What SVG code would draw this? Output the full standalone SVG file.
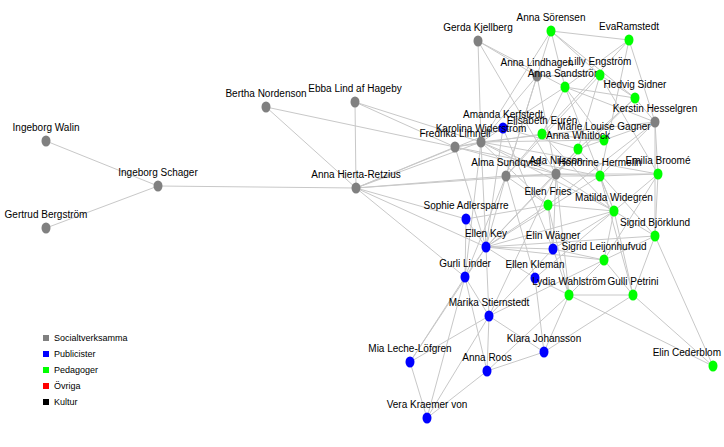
<svg xmlns="http://www.w3.org/2000/svg" width="724" height="447" viewBox="0 0 724 447">
<style>
text{font-family:"Liberation Sans","DejaVu Sans",sans-serif;font-size:10px;fill:#000;text-anchor:middle}
.e line{stroke:#c8c8c8;stroke-width:1}
.g{fill:#808080}.b{fill:#0000ff}.p{fill:#00ff00}
.lg text{text-anchor:start;font-size:9px}
</style>
<rect width="724" height="447" fill="#fff"/>
<g id="connectors" class="e">
<line x1="46" y1="141" x2="158" y2="186"/><line x1="46" y1="228" x2="158" y2="186"/><line x1="158" y1="186" x2="356" y2="188"/>
<line x1="266" y1="107" x2="356" y2="188"/><line x1="266" y1="107" x2="455" y2="147"/><line x1="355" y1="102" x2="356" y2="188"/><line x1="355" y1="102" x2="455" y2="147"/><line x1="355" y1="102" x2="481" y2="142"/>
<line x1="356" y1="188" x2="455" y2="147"/><line x1="356" y1="188" x2="481" y2="142"/><line x1="356" y1="188" x2="466" y2="219"/><line x1="356" y1="188" x2="486" y2="247"/><line x1="356" y1="188" x2="465" y2="277"/><line x1="356" y1="188" x2="506" y2="176"/><line x1="356" y1="188" x2="556" y2="174"/><line x1="356" y1="188" x2="503" y2="128"/>
<line x1="478" y1="41" x2="481" y2="142"/><line x1="478" y1="41" x2="537" y2="76"/><line x1="478" y1="41" x2="556" y2="174"/><line x1="478" y1="41" x2="565" y2="87"/>
<line x1="551" y1="31" x2="629" y2="40"/><line x1="551" y1="31" x2="565" y2="87"/><line x1="551" y1="31" x2="600" y2="75"/><line x1="551" y1="31" x2="481" y2="142"/><line x1="551" y1="31" x2="635" y2="98"/><line x1="551" y1="31" x2="506" y2="176"/>
<line x1="629" y1="40" x2="565" y2="87"/><line x1="629" y1="40" x2="600" y2="176"/><line x1="629" y1="40" x2="542" y2="134"/><line x1="629" y1="40" x2="655" y2="122"/>
<line x1="537" y1="76" x2="481" y2="142"/><line x1="537" y1="76" x2="506" y2="176"/><line x1="537" y1="76" x2="600" y2="75"/><line x1="537" y1="76" x2="556" y2="174"/>
<line x1="565" y1="87" x2="635" y2="98"/><line x1="565" y1="87" x2="542" y2="134"/><line x1="565" y1="87" x2="604" y2="140"/><line x1="565" y1="87" x2="655" y2="122"/><line x1="565" y1="87" x2="481" y2="142"/><line x1="565" y1="87" x2="614" y2="211"/>
<line x1="600" y1="75" x2="635" y2="98"/><line x1="600" y1="75" x2="578" y2="149"/><line x1="600" y1="75" x2="506" y2="176"/><line x1="600" y1="75" x2="658" y2="174"/>
<line x1="635" y1="98" x2="655" y2="122"/><line x1="635" y1="98" x2="578" y2="149"/><line x1="635" y1="98" x2="556" y2="174"/>
<line x1="655" y1="122" x2="604" y2="140"/><line x1="655" y1="122" x2="658" y2="174"/><line x1="655" y1="122" x2="600" y2="176"/><line x1="655" y1="122" x2="481" y2="142"/><line x1="655" y1="122" x2="655" y2="236"/><line x1="655" y1="122" x2="548" y2="205"/>
<line x1="455" y1="147" x2="481" y2="142"/><line x1="455" y1="147" x2="600" y2="176"/><line x1="455" y1="147" x2="486" y2="247"/><line x1="455" y1="147" x2="556" y2="174"/><line x1="455" y1="147" x2="542" y2="134"/>
<line x1="481" y1="142" x2="604" y2="140"/><line x1="481" y1="142" x2="658" y2="174"/><line x1="481" y1="142" x2="556" y2="174"/><line x1="481" y1="142" x2="548" y2="205"/><line x1="481" y1="142" x2="486" y2="247"/><line x1="481" y1="142" x2="465" y2="277"/><line x1="481" y1="142" x2="614" y2="211"/>
<line x1="503" y1="128" x2="578" y2="149"/><line x1="503" y1="128" x2="486" y2="247"/><line x1="503" y1="128" x2="553" y2="249"/>
<line x1="542" y1="134" x2="604" y2="140"/><line x1="542" y1="134" x2="506" y2="176"/><line x1="542" y1="134" x2="614" y2="211"/>
<line x1="578" y1="149" x2="604" y2="140"/><line x1="578" y1="149" x2="556" y2="174"/><line x1="578" y1="149" x2="655" y2="236"/><line x1="578" y1="149" x2="486" y2="247"/>
<line x1="506" y1="176" x2="556" y2="174"/><line x1="506" y1="176" x2="600" y2="176"/><line x1="506" y1="176" x2="486" y2="247"/><line x1="506" y1="176" x2="535" y2="278"/><line x1="506" y1="176" x2="548" y2="205"/><line x1="506" y1="176" x2="465" y2="277"/>
<line x1="556" y1="174" x2="600" y2="176"/><line x1="556" y1="174" x2="658" y2="174"/><line x1="556" y1="174" x2="553" y2="249"/><line x1="556" y1="174" x2="614" y2="211"/><line x1="556" y1="174" x2="486" y2="247"/><line x1="556" y1="174" x2="569" y2="295"/><line x1="556" y1="174" x2="489" y2="316"/>
<line x1="600" y1="176" x2="658" y2="174"/><line x1="600" y1="176" x2="614" y2="211"/><line x1="600" y1="176" x2="633" y2="295"/><line x1="600" y1="176" x2="486" y2="247"/>
<line x1="658" y1="174" x2="614" y2="211"/><line x1="658" y1="174" x2="604" y2="260"/><line x1="658" y1="174" x2="655" y2="236"/>
<line x1="548" y1="205" x2="614" y2="211"/><line x1="548" y1="205" x2="486" y2="247"/><line x1="548" y1="205" x2="569" y2="295"/><line x1="548" y1="205" x2="553" y2="249"/>
<line x1="614" y1="211" x2="655" y2="236"/><line x1="614" y1="211" x2="486" y2="247"/><line x1="614" y1="211" x2="604" y2="260"/><line x1="614" y1="211" x2="633" y2="295"/><line x1="614" y1="211" x2="553" y2="249"/><line x1="614" y1="211" x2="535" y2="278"/>
<line x1="655" y1="236" x2="604" y2="260"/><line x1="655" y1="236" x2="633" y2="295"/><line x1="655" y1="236" x2="713" y2="366"/><line x1="655" y1="236" x2="486" y2="247"/>
<line x1="466" y1="219" x2="486" y2="247"/><line x1="466" y1="219" x2="465" y2="277"/><line x1="466" y1="219" x2="548" y2="205"/>
<line x1="486" y1="247" x2="553" y2="249"/><line x1="486" y1="247" x2="465" y2="277"/><line x1="486" y1="247" x2="535" y2="278"/><line x1="486" y1="247" x2="489" y2="316"/><line x1="486" y1="247" x2="410" y2="362"/><line x1="486" y1="247" x2="604" y2="260"/>
<line x1="553" y1="249" x2="604" y2="260"/><line x1="553" y1="249" x2="569" y2="295"/><line x1="553" y1="249" x2="489" y2="316"/>
<line x1="604" y1="260" x2="569" y2="295"/><line x1="604" y1="260" x2="633" y2="295"/><line x1="604" y1="260" x2="489" y2="316"/>
<line x1="465" y1="277" x2="489" y2="316"/><line x1="465" y1="277" x2="410" y2="362"/><line x1="465" y1="277" x2="487" y2="371"/><line x1="465" y1="277" x2="427" y2="418"/>
<line x1="535" y1="278" x2="544" y2="352"/><line x1="535" y1="278" x2="569" y2="295"/>
<line x1="569" y1="295" x2="633" y2="295"/><line x1="569" y1="295" x2="544" y2="352"/><line x1="569" y1="295" x2="487" y2="371"/><line x1="569" y1="295" x2="713" y2="366"/>
<line x1="633" y1="295" x2="713" y2="366"/><line x1="633" y1="295" x2="544" y2="352"/>
<line x1="489" y1="316" x2="544" y2="352"/><line x1="489" y1="316" x2="487" y2="371"/><line x1="489" y1="316" x2="410" y2="362"/><line x1="489" y1="316" x2="427" y2="418"/>
<line x1="544" y1="352" x2="487" y2="371"/><line x1="410" y1="362" x2="427" y2="418"/><line x1="487" y1="371" x2="427" y2="418"/>
</g>
<g id="n_walin"><ellipse class="g" cx="46" cy="141" rx="4.5" ry="5.5"/><text x="46" y="131">Ingeborg Walin</text></g>
<g id="n_schager"><ellipse class="g" cx="158" cy="186" rx="4.5" ry="5.5"/><text x="158" y="176">Ingeborg Schager</text></g>
<g id="n_bergstrom"><ellipse class="g" cx="46" cy="228" rx="4.5" ry="5.5"/><text x="46" y="218">Gertrud Bergström</text></g>
<g id="n_nordenson"><ellipse class="g" cx="266" cy="107" rx="4.5" ry="5.5"/><text x="266" y="97">Bertha Nordenson</text></g>
<g id="n_hageby"><ellipse class="g" cx="355" cy="102" rx="4.5" ry="5.5"/><text x="355" y="92">Ebba Lind af Hageby</text></g>
<g id="n_hierta"><ellipse class="g" cx="356" cy="188" rx="4.5" ry="5.5"/><text x="356" y="178">Anna Hierta-Retzius</text></g>
<g id="n_kjellberg"><ellipse class="g" cx="478" cy="41" rx="4.5" ry="5.5"/><text x="478" y="31">Gerda Kjellberg</text></g>
<g id="n_sorensen"><ellipse class="p" cx="551" cy="31" rx="4.5" ry="5.5"/><text x="551" y="21">Anna Sörensen</text></g>
<g id="n_ramstedt"><ellipse class="p" cx="629" cy="40" rx="4.5" ry="5.5"/><text x="629" y="30">EvaRamstedt</text></g>
<g id="n_lindhagen"><ellipse class="g" cx="537" cy="76" rx="4.5" ry="5.5"/><text x="537" y="66">Anna Lindhagen</text></g>
<g id="n_sandstrom"><ellipse class="p" cx="565" cy="87" rx="4.5" ry="5.5"/><text x="565" y="77">Anna Sandström</text></g>
<g id="n_engstrom"><ellipse class="p" cx="600" cy="75" rx="4.5" ry="5.5"/><text x="600" y="65">Lilly Engström</text></g>
<g id="n_sidner"><ellipse class="p" cx="635" cy="98" rx="4.5" ry="5.5"/><text x="635" y="88">Hedvig Sidner</text></g>
<g id="n_hesselgren"><ellipse class="g" cx="655" cy="122" rx="4.5" ry="5.5"/><text x="655" y="112">Kerstin Hesselgren</text></g>
<g id="n_kerfstedt"><ellipse class="b" cx="503" cy="128" rx="4.5" ry="5.5"/><text x="503" y="118">Amanda Kerfstedt</text></g>
<g id="n_widerstrom"><ellipse class="g" cx="481" cy="142" rx="4.5" ry="5.5"/><text x="481" y="132">Karolina Widerström</text></g>
<g id="n_limnell"><ellipse class="g" cx="455" cy="147" rx="4.5" ry="5.5"/><text x="455" y="137">Fredrika Limnell</text></g>
<g id="n_euren"><ellipse class="p" cx="542" cy="134" rx="4.5" ry="5.5"/><text x="542" y="124">Elisabeth Eurén</text></g>
<g id="n_gagner"><ellipse class="p" cx="604" cy="140" rx="4.5" ry="5.5"/><text x="604" y="130">Marie Louise Gagner</text></g>
<g id="n_whitlock"><ellipse class="p" cx="578" cy="149" rx="4.5" ry="5.5"/><text x="578" y="139">Anna Whitlock</text></g>
<g id="n_sundqvist"><ellipse class="g" cx="506" cy="176" rx="4.5" ry="5.5"/><text x="506" y="166">Alma Sundqvist</text></g>
<g id="n_nilsson"><ellipse class="g" cx="556" cy="174" rx="4.5" ry="5.5"/><text x="556" y="164">Ada Nilsson</text></g>
<g id="n_hermelin"><ellipse class="p" cx="600" cy="176" rx="4.5" ry="5.5"/><text x="600" y="166">Honorine Hermelin</text></g>
<g id="n_broome"><ellipse class="p" cx="658" cy="174" rx="4.5" ry="5.5"/><text x="658" y="164">Emilia Broomé</text></g>
<g id="n_fries"><ellipse class="p" cx="548" cy="205" rx="4.5" ry="5.5"/><text x="548" y="195">Ellen Fries</text></g>
<g id="n_widegren"><ellipse class="p" cx="614" cy="211" rx="4.5" ry="5.5"/><text x="614" y="201">Matilda Widegren</text></g>
<g id="n_bjorklund"><ellipse class="p" cx="655" cy="236" rx="4.5" ry="5.5"/><text x="655" y="226">Sigrid Björklund</text></g>
<g id="n_adlersparre"><ellipse class="b" cx="466" cy="219" rx="4.5" ry="5.5"/><text x="466" y="209">Sophie Adlersparre</text></g>
<g id="n_key"><ellipse class="b" cx="486" cy="247" rx="4.5" ry="5.5"/><text x="486" y="237">Ellen Key</text></g>
<g id="n_wagner"><ellipse class="b" cx="553" cy="249" rx="4.5" ry="5.5"/><text x="553" y="239">Elin Wägner</text></g>
<g id="n_leijonhufvud"><ellipse class="p" cx="604" cy="260" rx="4.5" ry="5.5"/><text x="604" y="250">Sigrid Leijonhufvud</text></g>
<g id="n_linder"><ellipse class="b" cx="465" cy="277" rx="4.5" ry="5.5"/><text x="465" y="267">Gurli Linder</text></g>
<g id="n_kleman"><ellipse class="b" cx="535" cy="278" rx="4.5" ry="5.5"/><text x="535" y="268">Ellen Kleman</text></g>
<g id="n_wahlstrom"><ellipse class="p" cx="569" cy="295" rx="4.5" ry="5.5"/><text x="569" y="285">Lydia Wahlström</text></g>
<g id="n_petrini"><ellipse class="p" cx="633" cy="295" rx="4.5" ry="5.5"/><text x="633" y="285">Gulli Petrini</text></g>
<g id="n_stiernstedt"><ellipse class="b" cx="489" cy="316" rx="4.5" ry="5.5"/><text x="489" y="306">Marika Stiernstedt</text></g>
<g id="n_johansson"><ellipse class="b" cx="544" cy="352" rx="4.5" ry="5.5"/><text x="544" y="342">Klara Johansson</text></g>
<g id="n_leche"><ellipse class="b" cx="410" cy="362" rx="4.5" ry="5.5"/><text x="410" y="352">Mia Leche-Löfgren</text></g>
<g id="n_roos"><ellipse class="b" cx="487" cy="371" rx="4.5" ry="5.5"/><text x="487" y="361">Anna Roos</text></g>
<g id="n_cederblom"><ellipse class="p" cx="713" cy="366" rx="4.5" ry="5.5"/><text x="721" y="356" style="text-anchor:end">Elin Cederblom</text></g>
<g id="n_kraemer"><ellipse class="b" cx="427" cy="418" rx="4.5" ry="5.5"/><text x="427" y="408">Vera Kraemer von</text></g>
<g id="legend" class="lg">
<rect x="43" y="335" width="6" height="6" fill="#808080"/><text x="54" y="341">Socialtverksamma</text>
<rect x="43" y="351" width="6" height="6" fill="#0000ff"/><text x="54" y="357">Publicister</text>
<rect x="43" y="367" width="6" height="6" fill="#00ff00"/><text x="54" y="373">Pedagoger</text>
<rect x="43" y="383" width="6" height="6" fill="#ff0000"/><text x="54" y="389">Övriga</text>
<rect x="43" y="399" width="6" height="6" fill="#000000"/><text x="54" y="405">Kultur</text>
</g>
</svg>
